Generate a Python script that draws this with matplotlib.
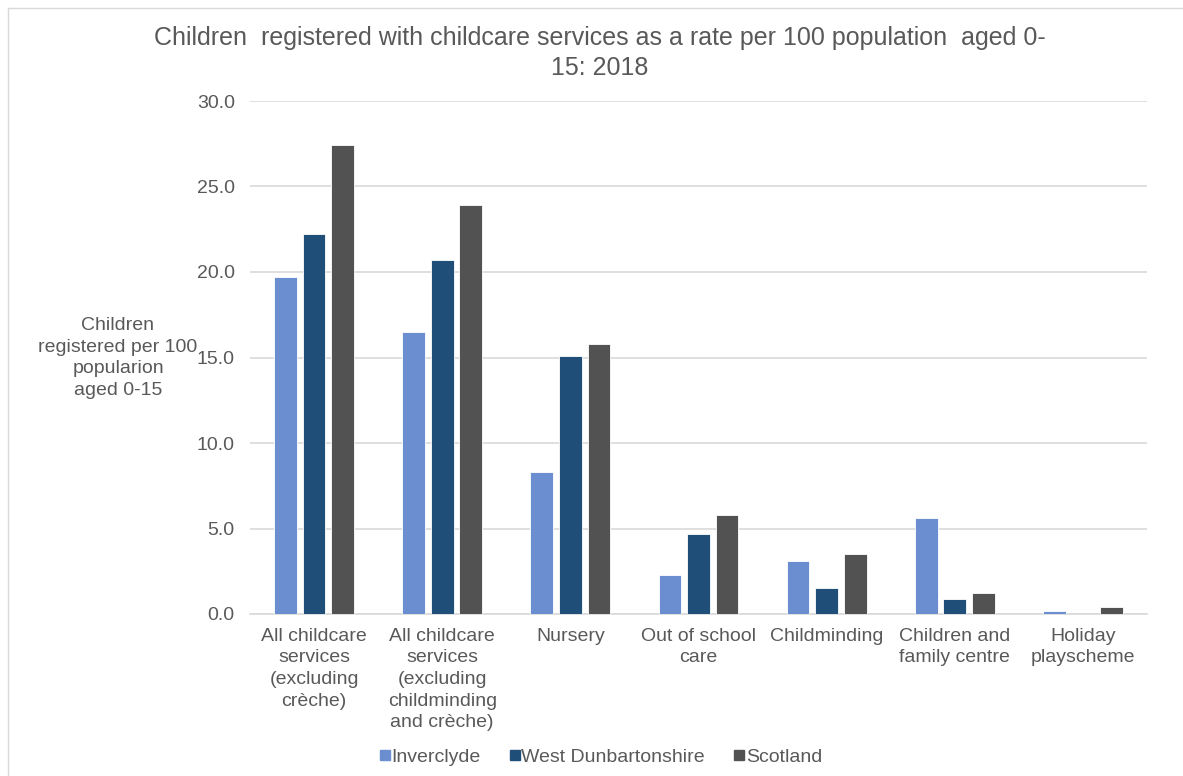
import numpy as np
import matplotlib
matplotlib.use("Agg")
import matplotlib.pyplot as plt
from matplotlib.lines import Line2D

plt.rcParams['font.family'] = ['Liberation Sans', 'DejaVu Sans']

categories = ["All childcare\nservices\n(excluding\ncrèche)",
              "All childcare\nservices\n(excluding\nchildminding\nand crèche)",
              "Nursery",
              "Out of school\ncare",
              "Childminding",
              "Children and\nfamily centre",
              "Holiday\nplayscheme"]
inverclyde = [19.7, 16.5, 8.3, 2.3, 3.1, 5.6, 0.2]
west_dunbartonshire = [22.2, 20.7, 15.1, 4.7, 1.5, 0.9, 0.0]
scotland = [27.4, 23.9, 15.8, 5.8, 3.5, 1.2, 0.4]
series_names = ["Inverclyde", "West Dunbartonshire", "Scotland"]
colors = ["#6A8ED0", "#1F4E79", "#525252"]
text_col = "#595959"

fig = plt.figure(figsize=(11.83, 7.76), dpi=100)
ax = fig.add_axes([250/1183, 1-614/776, 897/1183, 513/776])

x = np.arange(len(categories))
w = 0.178
off = 0.223
for i, vals in enumerate([inverclyde, west_dunbartonshire, scotland]):
    ax.bar(x + (i-1)*off, vals, w, color=colors[i], edgecolor="white",
           linewidth=0.6, zorder=3, label=series_names[i])

ax.set_xlim(-0.5, len(categories)-0.5)
ax.set_ylim(0, 30)
ax.set_yticks(np.arange(0, 30.1, 5))
ax.set_yticklabels([f"{v:.1f}" for v in np.arange(0, 30.1, 5)])
ax.yaxis.grid(True, color="#D9D9D9", linewidth=1.2, zorder=0)
ax.set_xticks(x)
ax.set_xticklabels(categories, linespacing=1.35)
ax.tick_params(axis='both', length=0, labelsize=14, labelcolor=text_col)
ax.tick_params(axis='x', pad=10)
ax.tick_params(axis='y', pad=11)
for s in ["top", "right", "left"]:
    ax.spines[s].set_visible(False)
ax.spines["bottom"].set_color("#D9D9D9")
ax.spines["bottom"].set_linewidth(1.2)

fig.text(118/1183, 1-358/776, "Children\nregistered per 100\npopularion\naged 0-15",
         ha="center", va="center", fontsize=14, color=text_col, linespacing=1.35)

fig.text(600/1183, 1-38/776, "Children  registered with childcare services as a rate per 100 population  aged 0-",
         ha="center", va="center", fontsize=18, color=text_col)
fig.text(600/1183, 1-68/776, "15: 2018", ha="center", va="center", fontsize=18, color=text_col)

handles = [Line2D([], [], marker="s", linestyle="none", markersize=7,
                  markerfacecolor=c, markeredgecolor=c) for c in colors]
fig.legend(handles, series_names, loc="center", bbox_to_anchor=(600/1183, 1-757/776),
           ncol=3, frameon=False, fontsize=14, labelcolor=text_col,
           handletextpad=0.0, columnspacing=1.4, handlelength=0.7)

# chart border (top and left visible in the reference)
fig.add_artist(Line2D([8/1183, 1], [1-8/776, 1-8/776], color="#D9D9D9", linewidth=1))
fig.add_artist(Line2D([8/1183, 8/1183], [0, 1-8/776], color="#D9D9D9", linewidth=1))

fig.savefig("out.png", dpi=100)
